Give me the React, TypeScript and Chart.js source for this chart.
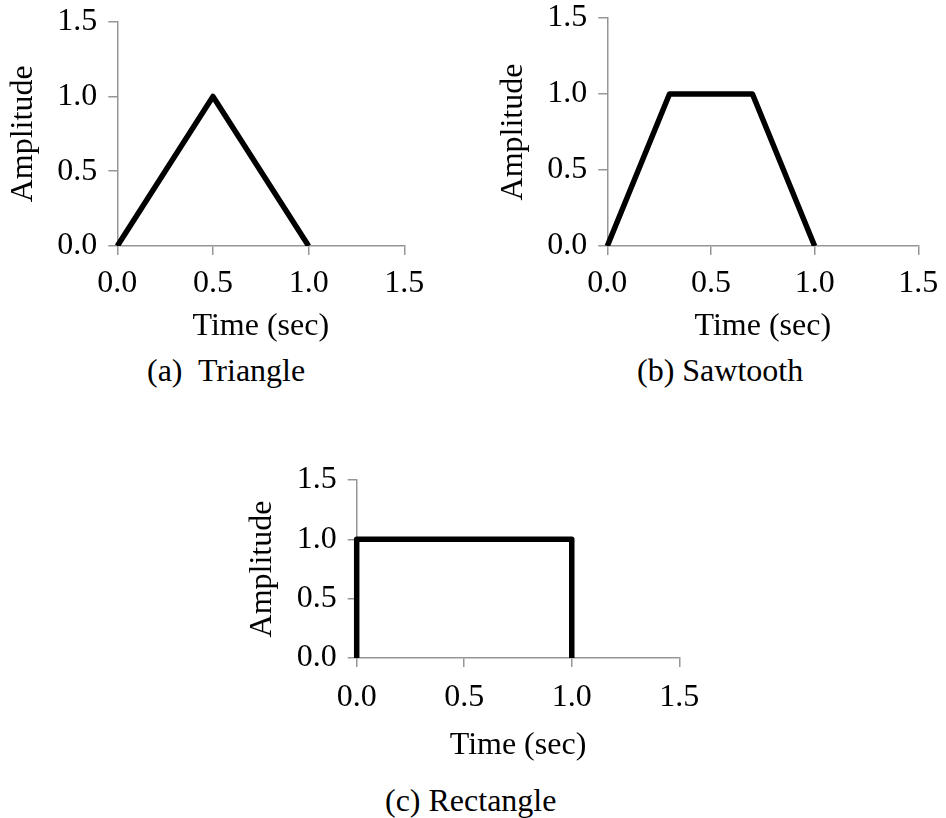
import React, { useEffect, useRef } from "react";
import { Chart, registerables } from "chart.js";

Chart.register(...registerables);

// Shared axis ticks (seconds and amplitude both run 0 – 1.5)
const axisTicks = [0, 0.5, 1.0, 1.5];

// (a) Triangle pulse
const triangleTime = [0, 0.5, 1.0];
const triangleAmplitude = [0, 1.0, 0];

// (b) Sawtooth (trapezoidal) pulse
const sawtoothTime = [0, 0.3, 0.7, 1.0];
const sawtoothAmplitude = [0, 1.0, 1.0, 0];

// (c) Rectangle pulse
const rectangleTime = [0, 0, 1.0, 1.0];
const rectangleAmplitude = [0, 1.0, 1.0, 0];

const xTitle = "Time (sec)";
const yTitle = "Amplitude";
const captions = ["(a)  Triangle", "(b) Sawtooth", "(c) Rectangle"];

const SERIF = '"Liberation Serif", "Times New Roman", Times, serif';
const AXIS_GREY = "#969696";
const FONT_SIZE = 32;

type Area = { l: number; t: number; r: number; b: number };
type Panel = {
  time: number[];
  amplitude: number[];
  left: number;
  top: number;
  width: number;
  height: number;
  area: Area;
  xLabelPad: number;
  yTitlePad: number;
};

const panels: Panel[] = [
  {
    time: triangleTime,
    amplitude: triangleAmplitude,
    left: 0,
    top: 0,
    width: 450,
    height: 346,
    area: { l: 117.3, t: 21.7, r: 404.3, b: 246 },
    xLabelPad: 9,
    yTitlePad: 4.8,
  },
  {
    time: sawtoothTime,
    amplitude: sawtoothAmplitude,
    left: 490,
    top: 0,
    width: 456,
    height: 346,
    area: { l: 117.3, t: 18, r: 428.3, b: 246 },
    xLabelPad: 9,
    yTitlePad: 4.8,
  },
  {
    time: rectangleTime,
    amplitude: rectangleAmplitude,
    left: 240,
    top: 440,
    width: 480,
    height: 325,
    area: { l: 116.7, t: 40, r: 439.3, b: 218 },
    xLabelPad: 11,
    yTitlePad: 3.8,
  },
];

const captionPos = [
  { left: 147, top: 351 },
  { left: 637, top: 351 },
  { left: 385, top: 781 },
];

function axisOptions(title: string, isX: boolean, panel: Panel) {
  const font = { family: SERIF, size: FONT_SIZE };
  return {
    type: "linear",
    min: 0,
    max: 1.5,
    afterBuildTicks: (scale: any) => {
      scale.ticks = axisTicks.map((value) => ({ value }));
    },
    ticks: {
      font,
      color: "#000",
      padding: isX ? panel.xLabelPad : 11,
      autoSkip: false,
      maxRotation: 0,
      callback: (v: number | string) => Number(v).toFixed(1),
    },
    grid: {
      drawOnChartArea: false,
      drawTicks: true,
      tickLength: 9,
      color: AXIS_GREY,
      lineWidth: 1.5,
    },
    border: { display: true, color: AXIS_GREY, width: 1.5 },
    title: {
      display: true,
      text: title,
      color: "#000",
      font,
      padding: isX ? { top: 0, bottom: 0 } : { top: panel.yTitlePad, bottom: 0 },
    },
    afterFit: (scale: any) => {
      if (isX) {
        scale.height = panel.height - panel.area.b;
        scale.paddingLeft = 0;
        scale.paddingRight = 0;
      } else {
        scale.width = panel.area.l;
        scale.paddingTop = 0;
        scale.paddingBottom = 0;
      }
    },
  };
}

function PulseChart({ panel }: { panel: Panel }) {
  const ref = useRef<HTMLCanvasElement | null>(null);

  useEffect(() => {
    if (!ref.current) return;
    const points = panel.time.map((t, i) => ({ x: t, y: panel.amplitude[i] }));
    const chart = new Chart(ref.current, {
      type: "line",
      data: {
        datasets: [
          {
            data: points,
            borderColor: "#000",
            borderWidth: 5.5,
            borderJoinStyle: "round",
            pointRadius: 0,
            tension: 0,
            fill: false,
            clip: { left: 4, top: 4, right: 4, bottom: 0 },
          } as any,
        ],
      },
      options: {
        responsive: false,
        animation: false,
        devicePixelRatio: 1,
        events: [],
        layout: {
          padding: {
            left: 0,
            top: panel.area.t,
            right: panel.width - panel.area.r,
            bottom: 0,
          },
        },
        plugins: {
          legend: { display: false },
          tooltip: { enabled: false },
          title: { display: false },
        },
        scales: {
          x: axisOptions(xTitle, true, panel) as any,
          y: axisOptions(yTitle, false, panel) as any,
        },
      },
    });
    return () => chart.destroy();
  }, [panel]);

  return (
    <canvas
      ref={ref}
      width={panel.width}
      height={panel.height}
      style={{
        position: "absolute",
        left: panel.left,
        top: panel.top,
        width: panel.width,
        height: panel.height,
      }}
    />
  );
}

export default function App() {
  return (
    <div
      style={{
        position: "absolute",
        left: 0,
        top: 0,
        width: 946,
        height: 818,
        background: "#fff",
        overflow: "hidden",
      }}
    >
      {panels.map((p, i) => (
        <PulseChart key={i} panel={p} />
      ))}
      {captions.map((c, i) => (
        <div
          key={c}
          style={{
            position: "absolute",
            left: captionPos[i].left,
            top: captionPos[i].top,
            fontFamily: SERIF,
            fontSize: FONT_SIZE,
            lineHeight: "38px",
            whiteSpace: "pre",
            color: "#000",
          }}
        >
          {c}
        </div>
      ))}
    </div>
  );
}
